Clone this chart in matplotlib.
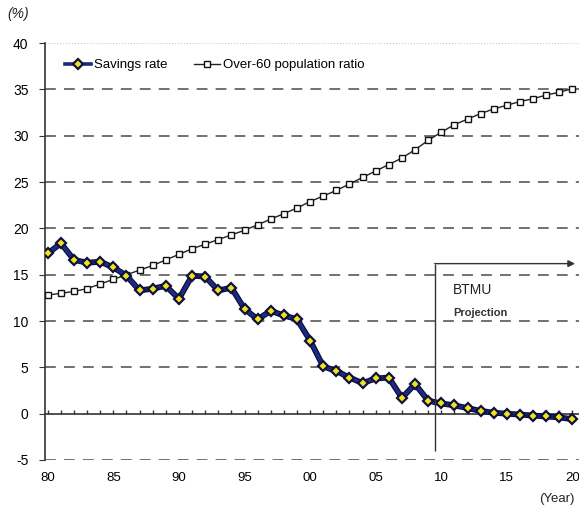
import numpy as np
import matplotlib.pyplot as plt

plt.rcParams['font.family'] = ['Liberation Sans Narrow', 'Liberation Sans', 'DejaVu Sans']
plt.rcParams['axes.unicode_minus'] = False

years = np.arange(1980, 2021)
savings_rate = [17.3, 18.4, 16.6, 16.3, 16.4, 15.8, 14.9, 13.3, 13.5, 13.8,
                12.4, 14.9, 14.8, 13.3, 13.6, 11.3, 10.2, 11.1, 10.6, 10.2,
                7.9, 5.1, 4.6, 3.9, 3.3, 3.8, 3.9, 1.7, 3.2, 1.4,
                1.1, 0.9, 0.6, 0.3, 0.1, 0.0, -0.1, -0.2, -0.3, -0.4, -0.6]
over60_ratio = [12.8, 13.0, 13.2, 13.5, 14.0, 14.5, 15.0, 15.5, 16.0, 16.6,
                17.2, 17.8, 18.3, 18.8, 19.3, 19.8, 20.4, 21.0, 21.6, 22.2,
                22.9, 23.5, 24.1, 24.8, 25.5, 26.2, 26.9, 27.6, 28.5, 29.5,
                30.4, 31.2, 31.8, 32.4, 32.9, 33.3, 33.7, 34.0, 34.4, 34.7, 35.1]
xtick_years = [1980, 1985, 1990, 1995, 2000, 2005, 2010, 2015, 2020]
xtick_labels = ['80', '85', '90', '95', '00', '05', '10', '15', '20']
yticks = list(range(-5, 41, 5))
proj_start = 2009.5

fig = plt.figure(figsize=(5.79, 5.08), dpi=100)
ax = fig.add_axes([0.078, 0.0945, 0.922, 0.8205])

ax.set_xlim(1979.8, 2020.5)
ax.set_ylim(-5, 40)

# grid lines
for v in yticks:
    if v == 0:
        continue
    if v == 40:
        ax.axhline(v, color='#c8c8c8', lw=0.8, ls=':', zorder=1)
    else:
        ax.axhline(v, color='#666666', lw=1.3, ls=(0, (6, 4.5)), zorder=1)
ax.axhline(0, color='#333333', lw=1.2, zorder=2)

ax.plot(years, over60_ratio, color='#222222', lw=1.0, marker='s', ms=5,
        mfc='white', mec='#111111', mew=1.0, zorder=3,
        label='Over-60 population ratio')
ax.plot(years, savings_rate, color='#0a0a3a', lw=4.2, zorder=4)
ax.plot(years, savings_rate, color='#1c2a80', lw=2.6, marker='D', ms=5.5,
        mfc='#f2e21a', mec='#0d1240', mew=1.6, zorder=5,
        label='Savings rate')

# projection marker
ax.vlines(proj_start, -4.0, 16.2, color='#333333', lw=1.0, zorder=6)
ax.annotate('', xy=(2020.2, 16.2), xytext=(proj_start, 16.2),
            arrowprops=dict(arrowstyle='-|>', color='#333333', lw=1.0,
                            mutation_scale=10, shrinkA=0, shrinkB=0), zorder=6)
ax.text(2010.9, 13.3, 'BTMU', fontsize=10, color='#222222', va='center')
ax.text(2010.9, 10.9, 'Projection', fontsize=8, fontweight='bold',
        color='#333333', va='center')

for s in ['top', 'right', 'bottom']:
    ax.spines[s].set_visible(False)
ax.spines['left'].set_color('#333333')
ax.spines['left'].set_linewidth(1.2)

ax.set_yticks(yticks)
ax.tick_params(axis='y', length=4, width=0.8, color='#333333', labelsize=10, pad=8)
ax.set_xticks(xtick_years)
ax.set_xticklabels(xtick_labels)
ax.tick_params(axis='x', length=0, labelsize=9.5, pad=9)

# year ticks on the zero line
zero_ax = ax.secondary_xaxis(5 / 45)
zero_ax.set_xticks(years)
zero_ax.tick_params(axis='x', direction='in', length=3, width=1.0,
                    color='#333333', labelbottom=False, labeltop=False)
zero_ax.spines['bottom'].set_visible(False)
zero_ax.spines['top'].set_visible(False)

handles, labels = ax.get_legend_handles_labels()
ax.legend(handles[::-1], labels[::-1], loc='upper left', ncol=2, frameon=False,
          fontsize=9.5, handlelength=2.0, handletextpad=0.2, columnspacing=2.0,
          bbox_to_anchor=(0.015, 0.99))

fig.text(0.012, 0.965, '(%)', fontsize=10, style='italic', color='#222222')
fig.text(0.962, 0.012, '(Year)', fontsize=9.5, color='#222222', ha='center')

fig.savefig('out.png', dpi=100)
